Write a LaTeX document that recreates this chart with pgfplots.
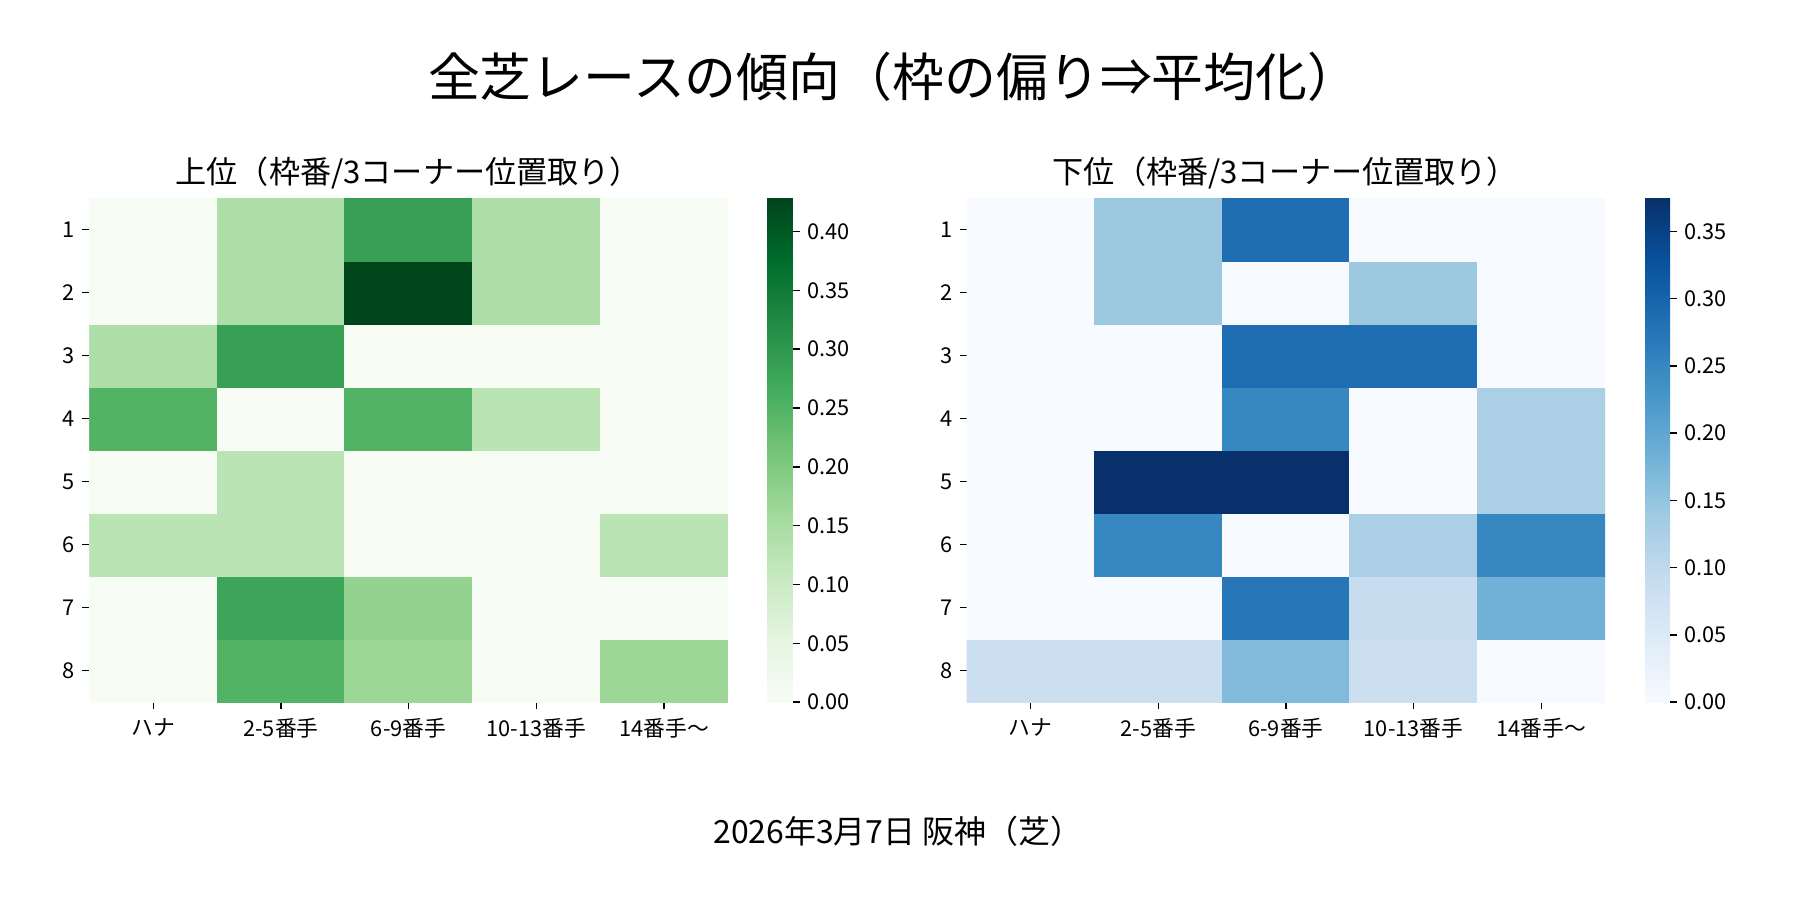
\documentclass[border=0pt]{standalone}
\usepackage{pgfplots}
\pgfplotsset{compat=1.18}
\usepackage{fontspec}
\setmainfont{Noto Sans CJK JP}
\pgfplotsset{
  colormap={greens}{rgb255=(247,252,245) rgb255=(229,245,224) rgb255=(199,233,192) rgb255=(161,217,155) rgb255=(116,196,118) rgb255=(65,171,93) rgb255=(35,139,69) rgb255=(0,109,44) rgb255=(0,68,27)},
  colormap={blues}{rgb255=(247,251,255) rgb255=(222,235,247) rgb255=(198,219,239) rgb255=(158,202,225) rgb255=(107,174,214) rgb255=(66,146,198) rgb255=(33,113,181) rgb255=(8,81,156) rgb255=(8,48,107)},
  /pgf/number format/assume math mode=true,
  tick label style={font=\fontsize{10.5}{12}\selectfont, text=black},
  hm/.style={
    scale only axis, width=306.5bp, height=242bp, anchor=south west,
    xmin=-0.5, xmax=4.5, ymin=0.5, ymax=8.5,
    axis line style={draw=none},
    xtick={0,1,2,3,4},
    xticklabels={ハナ,2-5番手,6-9番手,10-13番手,14番手〜},
    ytick={1,2,3,4,5,6,7,8},
    yticklabels={8,7,6,5,4,3,2,1},
    tick align=outside, xtick pos=bottom, ytick pos=left,
    major tick length=3.4bp,
    every tick/.style={black, line width=0.7bp},
    xticklabel style={yshift=-1bp},
    point meta min=0,
    colorbar,
    colorbar style={
      at={(parent axis.north east)}, anchor=north west, xshift=10.6bp,
      scale only axis, width=12bp, height=242bp,
      axis line style={draw=none},
      ytick pos=right, yticklabel pos=right,
      tick align=outside, major tick length=3.4bp,
      every tick/.style={black, line width=0.7bp},
      yticklabel style={font=\fontsize{10.5}{12}\selectfont, /pgf/number format/fixed, /pgf/number format/fixed zerofill, /pgf/number format/precision=2, /pgf/number format/assume math mode=true},
    },
  },
}
\begin{document}
\begin{tikzpicture}
\path[use as bounding box] (0,0) rectangle (864bp,432bp);
\node[font=\fontsize{25}{30}\selectfont] at (429bp,395bp) {全芝レースの傾向（枠の偏り⇒平均化）};
\node[font=\fontsize{15}{18}\selectfont] at (196bp,349bp) {上位（枠番/3コーナー位置取り）};
\node[font=\fontsize{15}{18}\selectfont] at (617bp,349bp) {下位（枠番/3コーナー位置取り）};
\node[font=\fontsize{15.4}{18}\selectfont] at (431bp,33bp) {2026年3月7日 阪神（芝）};

\begin{axis}[hm, at={(42.9bp,95bp)}, colormap name=greens, point meta max=0.428571,
  colorbar style={ytick={0,0.05,0.1,0.15,0.2,0.25,0.3,0.35,0.4}}]
\addplot[matrix plot*, mesh/cols=5, point meta=explicit] table[meta=c]{
x y c
0 1 0
1 1 0.25
2 1 0.1667
3 1 0
4 1 0.1667
0 2 0
1 2 0.2778
2 2 0.1778
3 2 0
4 2 0
0 3 0.125
1 3 0.125
2 3 0
3 3 0
4 3 0.125
0 4 0
1 4 0.125
2 4 0
3 4 0
4 4 0
0 5 0.25
1 5 0
2 5 0.25
3 5 0.125
4 5 0
0 6 0.1429
1 6 0.2857
2 6 0
3 6 0
4 6 0
0 7 0
1 7 0.1429
2 7 0.428571
3 7 0.1429
4 7 0
0 8 0
1 8 0.1429
2 8 0.2857
3 8 0.1429
4 8 0
};
\end{axis}

\begin{axis}[hm, at={(464bp,95bp)}, colormap name=blues, point meta max=0.375,
  colorbar style={ytick={0,0.05,0.1,0.15,0.2,0.25,0.3,0.35}}]
\addplot[matrix plot*, mesh/cols=5, point meta=explicit] table[meta=c]{
x y c
0 1 0.0833
1 1 0.0833
2 1 0.1667
3 1 0.0833
4 1 0
0 2 0
1 2 0
2 2 0.2727
3 2 0.0909
4 2 0.1818
0 3 0
1 3 0.25
2 3 0
3 3 0.125
4 3 0.25
0 4 0
1 4 0.375
2 4 0.375
3 4 0
4 4 0.125
0 5 0
1 5 0
2 5 0.25
3 5 0
4 5 0.125
0 6 0
1 6 0
2 6 0.2857
3 6 0.2857
4 6 0
0 7 0
1 7 0.1429
2 7 0
3 7 0.1429
4 7 0
0 8 0
1 8 0.1429
2 8 0.2857
3 8 0
4 8 0
};
\end{axis}
\end{tikzpicture}
\end{document}
